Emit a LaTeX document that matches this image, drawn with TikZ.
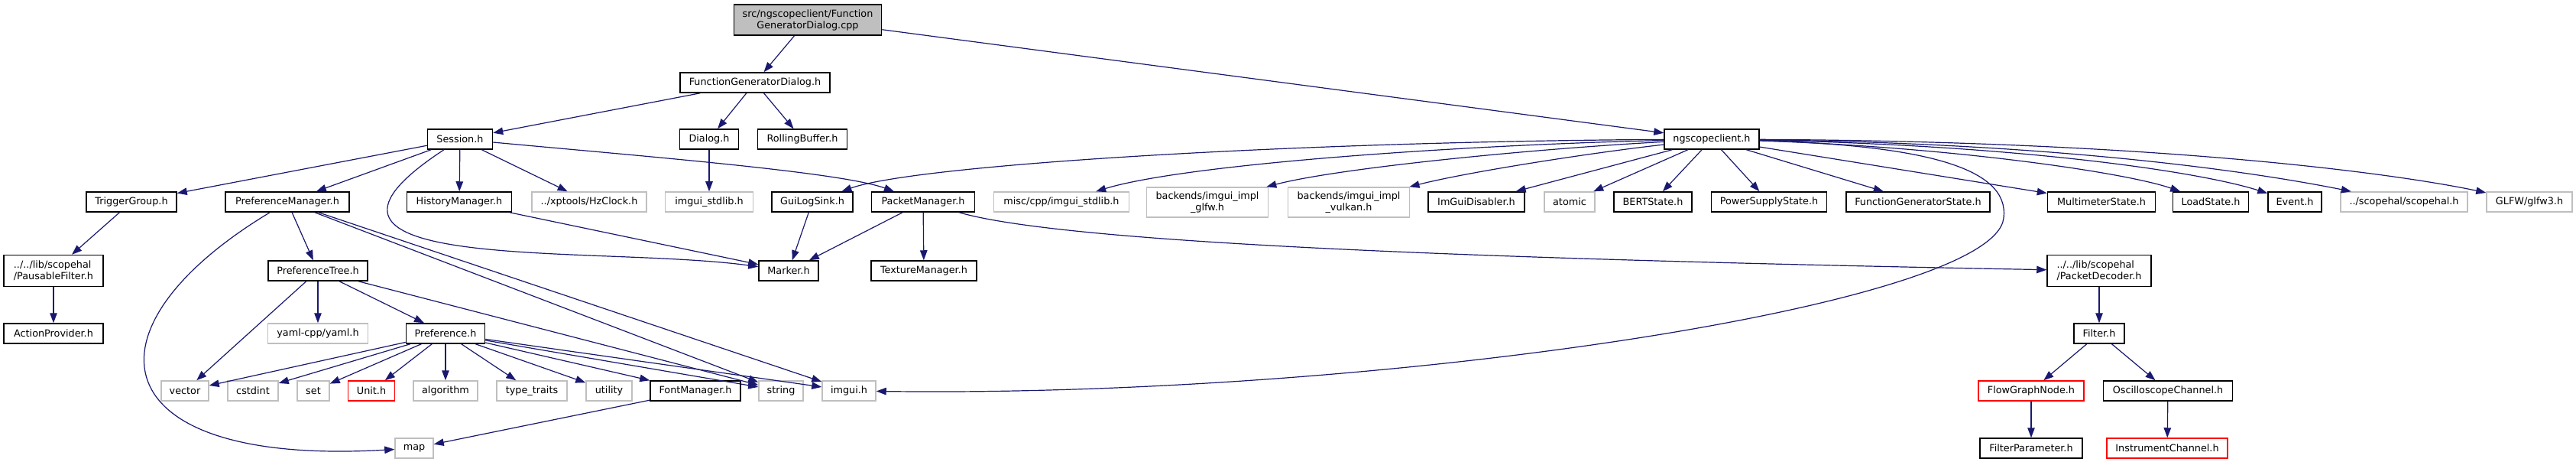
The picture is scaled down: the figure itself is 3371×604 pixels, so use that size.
\documentclass[tikz,border=0pt]{standalone}
\usepackage{fontspec}
\setmainfont{DejaVu Sans}
\usetikzlibrary{arrows.meta}
\definecolor{navy}{RGB}{25,25,112}
\definecolor{grey75}{RGB}{191,191,191}
\begin{document}
\begin{tikzpicture}[x=1pt,y=1pt,
		box/.style={draw=black, fill=white, line width=1.5, minimum height=26, inner xsep=3, inner ysep=2, font=\fontsize{12.8}{15}\selectfont},
		ext/.style={box, draw=grey75},
		trunc/.style={box, draw=red},
		rootbox/.style={box, fill=grey75, minimum height=40, align=center},
		dep/.style={draw=navy, line width=1.2, -{Triangle[length=13,width=9.5]}}]
					\path[use as bounding box, fill=white] (0,0) rectangle (3371,-604);
					\node[rootbox, minimum width=193] (root) at (1057,-26) {src/ngscopeclient/Function\\GeneratorDialog.cpp};
					\node[box, minimum width=196] (fgd) at (988,-108) {FunctionGeneratorDialog.h};
					\node[box, minimum width=85] (sess) at (602,-182) {Session.h};
					\node[box, minimum width=77] (dlg) at (928,-182) {Dialog.h};
					\node[box, minimum width=117] (rbuf) at (1050,-182) {RollingBuffer.h};
					\node[box, minimum width=124] (ngs) at (2240,-182) {ngscopeclient.h};
					\node[box, minimum width=118] (trig) at (172,-264) {TriggerGroup.h};
					\node[box, minimum width=162] (pmgr) at (376,-264) {PreferenceManager.h};
					\node[box, minimum width=137] (hmgr) at (601,-264) {HistoryManager.h};
					\node[ext, minimum width=150] (hzc) at (771,-264) {../xptools/HzClock.h};
					\node[ext, minimum width=115] (istd) at (928,-264) {imgui\_stdlib.h};
					\node[box, minimum width=106] (gls) at (1063,-264) {GuiLogSink.h};
					\node[box, minimum width=135] (pkm) at (1208,-264) {PacketManager.h};
					\node[ext, minimum width=177] (misc) at (1389,-264) {misc/cpp/imgui\_stdlib.h};
					\node[ext, minimum width=159, minimum height=39, align=center] (glfw) at (1580,-264.5) {backends/imgui\_impl\\\_glfw.h};
					\node[ext, minimum width=159, minimum height=39, align=center] (vulk) at (1765,-264.5) {backends/imgui\_impl\\\_vulkan.h};
					\node[box, minimum width=126] (disab) at (1932,-264) {ImGuiDisabler.h};
					\node[ext, minimum width=66] (atom) at (2054,-264) {atomic};
					\node[box, minimum width=102] (bert) at (2163,-264) {BERTState.h};
					\node[box, minimum width=151] (pss) at (2315,-264) {PowerSupplyState.h};
					\node[box, minimum width=188] (fgs) at (2510,-264) {FunctionGeneratorState.h};
					\node[box, minimum width=141] (mms) at (2750,-264) {MultimeterState.h};
					\node[box, minimum width=99] (lds) at (2893,-264) {LoadState.h};
					\node[box, minimum width=70] (evt) at (3003,-264) {Event.h};
					\node[ext, minimum width=166] (shal) at (3146,-264) {../scopehal/scopehal.h};
					\node[ext, minimum width=112] (glfwt) at (3310,-264) {GLFW/glfw3.h};
					\node[box, minimum width=130, minimum height=41, align=left] (pfil) at (70,-354) {../../lib/scopehal\\/PausableFilter.h};
					\node[box, minimum width=130] (ptree) at (416,-354) {PreferenceTree.h};
					\node[box, minimum width=78] (mark) at (1032,-354) {Marker.h};
					\node[box, minimum width=138] (tex) at (1209,-354) {TextureManager.h};
					\node[box, minimum width=136, minimum height=41, align=left] (pdec) at (2747,-354) {../../lib/scopehal\\/PacketDecoder.h};
					\node[box, minimum width=130] (act) at (70,-436) {ActionProvider.h};
					\node[ext, minimum width=131] (yaml) at (416,-436) {yaml-cpp/yaml.h};
					\node[box, minimum width=103] (pref) at (583,-436) {Preference.h};
					\node[box, minimum width=66] (filt) at (2747,-436) {Filter.h};
					\node[ext, minimum width=62] (vec) at (242,-511) {vector};
					\node[ext, minimum width=66] (cstd) at (331,-511) {cstdint};
					\node[ext, minimum width=42] (set) at (410,-511) {set};
					\node[trunc, minimum width=61] (unit) at (486,-511) {Unit.h};
					\node[ext, minimum width=84] (algo) at (583,-511) {algorithm};
					\node[ext, minimum width=92] (tt) at (696,-511) {type\_traits};
					\node[ext, minimum width=60] (util) at (797,-511) {utility};
					\node[box, minimum width=118] (font) at (910,-511) {FontManager.h};
					\node[ext, minimum width=58] (str) at (1022,-511) {string};
					\node[ext, minimum width=70] (img) at (1111,-511) {imgui.h};
					\node[trunc, minimum width=138] (fgn) at (2658,-511) {FlowGraphNode.h};
					\node[box, minimum width=169] (osc) at (2837,-511) {OscilloscopeChannel.h};
					\node[ext, minimum width=50] (map) at (542,-586) {map};
					\node[box, minimum width=134] (fpar) at (2658,-586) {FilterParameter.h};
					\node[trunc, minimum width=158] (ich) at (2836,-586) {InstrumentChannel.h};
					\draw[dep] (root) -- (fgd);
					\draw[dep] (root) -- (ngs);
					\draw[dep] (fgd) -- (sess);
					\draw[dep] (fgd) -- (dlg);
					\draw[dep] (fgd) -- (rbuf);
					\draw[dep] (dlg) -- (istd);
					\draw[dep] (sess) -- (trig);
					\draw[dep] (sess) -- (pmgr);
					\draw[dep] (sess) -- (hmgr);
					\draw[dep] (sess) -- (hzc);
					\draw[dep] (sess) .. controls (850,-205) and (1100,-225) .. (pkm);
					\draw[dep] (sess) .. controls (330,-360) and (780,-320) .. (mark);
					\draw[dep] (pmgr) .. controls (100,-430) and (130,-610) .. (map);
					\draw[dep] (pmgr) -- (ptree);
					\draw[dep] (pmgr) -- (str);
					\draw[dep] (pmgr) -- (img);
					\draw[dep] (hmgr) -- (mark);
					\draw[dep] (gls) -- (mark);
					\draw[dep] (pkm) -- (mark);
					\draw[dep] (pkm) -- (tex);
					\draw[dep] (pkm) .. controls (1400,-320) and (2000,-340) .. (pdec);
					\draw[dep] (trig) -- (pfil);
					\draw[dep] (pfil) -- (act);
					\draw[dep] (ptree) -- (vec);
					\draw[dep] (ptree) -- (yaml);
					\draw[dep] (ptree) -- (pref);
					\draw[dep] (ptree) -- (str);
					\draw[dep] (pref) -- (vec);
					\draw[dep] (pref) -- (cstd);
					\draw[dep] (pref) -- (set);
					\draw[dep] (pref) -- (unit);
					\draw[dep] (pref) -- (algo);
					\draw[dep] (pref) -- (tt);
					\draw[dep] (pref) -- (util);
					\draw[dep] (pref) -- (font);
					\draw[dep] (pref) -- (str);
					\draw[dep] (pref) -- (img);
					\draw[dep] (font) -- (map);
					\draw[dep] (pdec) -- (filt);
					\draw[dep] (filt) -- (fgn);
					\draw[dep] (filt) -- (osc);
					\draw[dep] (fgn) -- (fpar);
					\draw[dep] (osc) -- (ich);
					% ngscopeclient.h fans out
					\draw[dep] (ngs) .. controls (1700,-185) and (1200,-215) .. (gls);
					\draw[dep] (ngs) .. controls (1900,-190) and (1550,-215) .. (misc);
					\draw[dep] (ngs) .. controls (2000,-195) and (1750,-220) .. (glfw);
					\draw[dep] (ngs) .. controls (2080,-200) and (1920,-225) .. (vulk);
					\draw[dep] (ngs) -- (disab);
					\draw[dep] (ngs) -- (atom);
					\draw[dep] (ngs) -- (bert);
					\draw[dep] (ngs) -- (pss);
					\draw[dep] (ngs) -- (fgs);
					\draw[dep] (ngs) -- (mms);
					\draw[dep] (ngs) .. controls (2550,-192) and (2780,-225) .. (lds);
					\draw[dep] (ngs) .. controls (2650,-190) and (2880,-225) .. (evt);
					\draw[dep] (ngs) .. controls (2750,-188) and (3000,-235) .. (shal);
					\draw[dep] (ngs) .. controls (2850,-185) and (3150,-230) .. (glfwt);
					\draw[dep] (ngs) .. controls (2520,-190) and (2630,-220) .. (2622,-285) .. controls (2610,-400) and (1800,-520) .. (img);
				\end{tikzpicture}
\end{document}
